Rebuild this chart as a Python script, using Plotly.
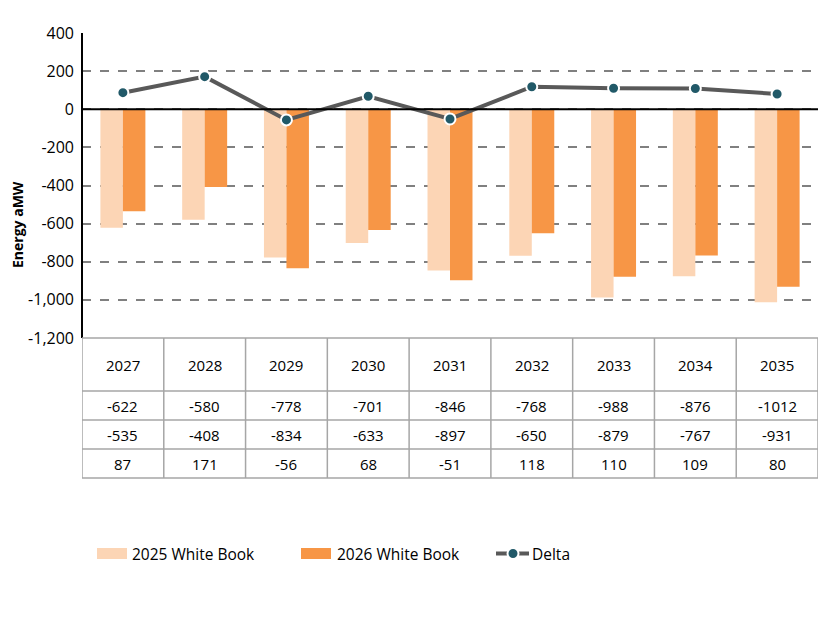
import plotly.graph_objects as go

years = ["2027", "2028", "2029", "2030", "2031", "2032", "2033", "2034", "2035"]
wb2025 = [-622, -580, -778, -701, -846, -768, -988, -876, -1012]
wb2026 = [-535, -408, -834, -633, -897, -650, -879, -767, -931]
delta = [87, 171, -56, 68, -51, 118, 110, 109, 80]
tick_vals = [400, 200, 0, -200, -400, -600, -800, -1000, -1200]
tick_text = ["400", "200", "0", "-200", "-400", "-600", "-800", "-1,000", "-1,200"]
series_names = ["2025 White Book", "2026 White Book", "Delta"]

C25 = "#FCD5B5"
C26 = "#F79646"
CLINE = "#595959"
CMARK = "#215968"
GRID = "#808080"
TGRID = "#A6A6A6"
FONT = "Open Sans"

# page offset (body margin) = 8px
OFF = 8
W, H = 826, 620
# desired plot area in page px: left 82, right 818, top 33, bottom 338
L, R, T, B = 82 - OFF, W + OFF - 818, 33 - OFF, H + OFF - 338
PW, PH = W - L - R, H - T - B
PX_TOP, PX_LEFT = 33, 82


def px_y(p):
    return (PX_TOP + PH - p) / PH


def px_x(p):
    return (p - PX_LEFT) / PW


xs = list(range(len(years)))

fig = go.Figure()
fig.add_trace(go.Bar(x=xs, y=wb2025, name=series_names[0], marker=dict(color=C25, line=dict(width=0)),
                     showlegend=False))
fig.add_trace(go.Bar(x=xs, y=wb2026, name=series_names[1], marker=dict(color=C26, line=dict(width=0)),
                     showlegend=False))
fig.add_trace(go.Scatter(x=xs, y=delta, name=series_names[2], mode="lines+markers",
                         line=dict(color=CLINE, width=4),
                         marker=dict(color=CMARK, size=11, line=dict(color="white", width=2)),
                         showlegend=False))

shapes = []
annotations = []

# zero line
shapes.append(dict(type="line", xref="paper", yref="y", x0=0, x1=1, y0=0, y1=0,
                   line=dict(color="black", width=2), layer="above"))
# left axis line
shapes.append(dict(type="line", xref="paper", yref="paper", x0=0, x1=0, y0=0, y1=1,
                   line=dict(color="black", width=2), layer="above"))

# data table
row_px = [338, 391, 420, 449, 478]
for rp in row_px:
    shapes.append(dict(type="line", xref="x", yref="paper", x0=-0.5, x1=len(years) - 0.5,
                       y0=px_y(rp), y1=px_y(rp), line=dict(color=TGRID, width=1.5)))
for i in range(len(years) + 1):
    shapes.append(dict(type="line", xref="x", yref="paper", x0=i - 0.5, x1=i - 0.5,
                       y0=px_y(row_px[0]), y1=px_y(row_px[-1]), line=dict(color=TGRID, width=1.5)))

rows = [years, [str(v) for v in wb2025], [str(v) for v in wb2026], [str(v) for v in delta]]
for r, vals in enumerate(rows):
    cy = (row_px[r] + row_px[r + 1]) / 2
    for i, v in enumerate(vals):
        annotations.append(dict(x=i, y=px_y(cy), xref="x", yref="paper", text=v, showarrow=False,
                                font=dict(family=FONT, size=15, color="#000"), xanchor="center",
                                yanchor="middle"))

# y-axis title
annotations.append(dict(x=px_x(18), y=px_y(225), xref="paper", yref="paper", text="<b>Energy aMW</b>",
                        textangle=-90, showarrow=False, font=dict(family=FONT, size=14, color="#000"),
                        xanchor="center", yanchor="middle", borderpad=0))

# custom legend
ly = 553.5
shapes.append(dict(type="rect", xref="paper", yref="paper", x0=px_x(97), x1=px_x(127),
                   y0=px_y(548), y1=px_y(559), fillcolor=C25, line=dict(width=0)))
shapes.append(dict(type="rect", xref="paper", yref="paper", x0=px_x(301), x1=px_x(331),
                   y0=px_y(548), y1=px_y(559), fillcolor=C26, line=dict(width=0)))
shapes.append(dict(type="line", xref="paper", yref="paper", x0=px_x(496), x1=px_x(529),
                   y0=px_y(ly), y1=px_y(ly), line=dict(color=CLINE, width=4)))
shapes.append(dict(type="circle", xref="paper", yref="paper", x0=px_x(507.5), x1=px_x(518.5),
                   y0=px_y(ly + 5.5), y1=px_y(ly - 5.5), fillcolor=CMARK, line=dict(color="white", width=2)))
for tx, name in zip([130, 335, 530], series_names):
    annotations.append(dict(x=px_x(tx), y=px_y(ly), xref="paper", yref="paper", text=name,
                            showarrow=False, xanchor="left", yanchor="middle",
                            font=dict(family=FONT, size=15.5, color="#000")))

fig.update_layout(
    width=W, height=H,
    margin=dict(l=L, r=R, t=T, b=B, pad=0),
    plot_bgcolor="white", paper_bgcolor="white",
    barmode="group", bargap=0.45, bargroupgap=0,
    font=dict(family=FONT, size=14, color="#000"),
    xaxis=dict(range=[-0.5, len(years) - 0.5], showticklabels=False, showgrid=False,
               zeroline=False, showline=False, ticks=""),
    yaxis=dict(range=[-1200, 400], tickvals=tick_vals, ticktext=tick_text,
               showgrid=True, gridcolor=GRID, griddash="dash", gridwidth=1.5,
               zeroline=False, showline=False, ticks="", ticklabelstandoff=7,
               tickfont=dict(family=FONT, size=16, color="#000")),
    shapes=shapes, annotations=annotations,
    showlegend=False,
)

fig.write_html("out.html")
